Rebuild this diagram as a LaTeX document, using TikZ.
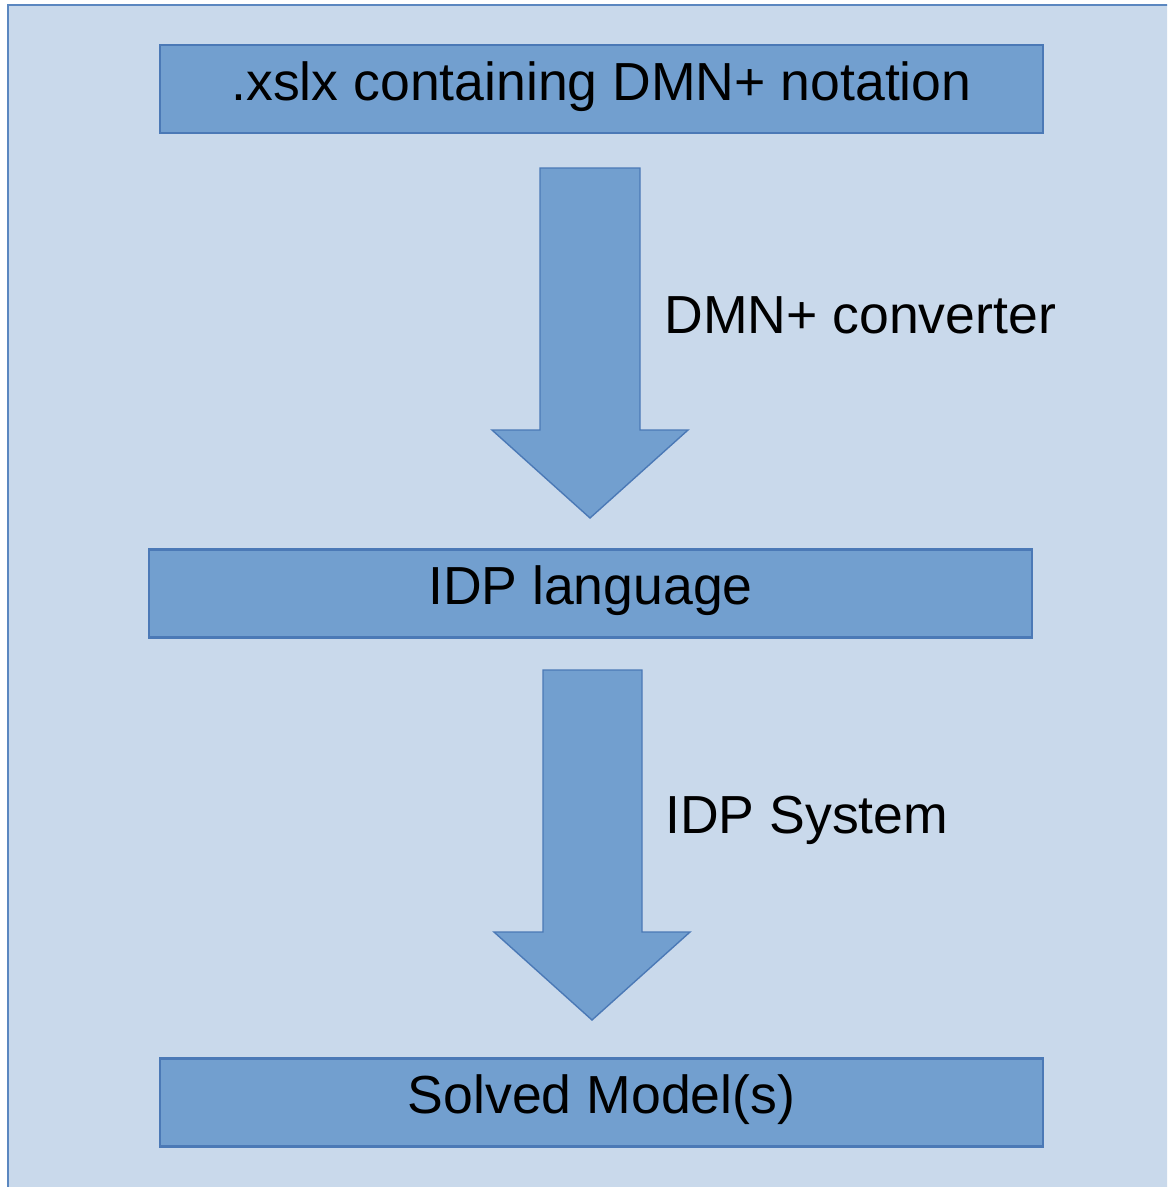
\documentclass[tikz,border=0pt]{standalone}
\usepackage{fontspec}
\setmainfont{Liberation Sans}
\definecolor{panelfill}{HTML}{C9D9EB}
\definecolor{panelline}{HTML}{5B87C0}
\definecolor{boxfill}{HTML}{729FCF}
\definecolor{boxline}{HTML}{4B79B6}
\tikzset{
  px/.style={x=0.02cm,y=-0.02cm},
  stagebox/.style={draw=boxline,line width=1.6pt,fill=boxfill,inner sep=0pt,
    minimum width=17.66cm,minimum height=1.76cm,
    text height=0.6cm,text depth=0.16cm,
    font=\fontsize{30.5}{36}\selectfont},
  flowarrow/.style={draw=boxline,line width=0.8pt,fill=boxfill,line join=miter},
  steplabel/.style={anchor=base west,inner sep=0pt,font=\fontsize{30.5}{36}\selectfont}
}
\begin{document}
\begin{tikzpicture}[px]
\useasboundingbox (0,0) rectangle (1167,1187);
\begin{scope}
  \clip (0,0) rectangle (1167,1187);
  \fill[white] (0,0) rectangle (1167,1187);
  \draw[panelline,fill=panelfill,line width=1.6pt] (8,5) rectangle (1200,1220);
\end{scope}

% stages
\node[stagebox] (xlsx) at (601.5,89) {.xslx containing DMN+ notation};
\node[stagebox] (idp) at (590.5,593.5) {IDP language};
\node[stagebox] (solved) at (601.5,1102.5) {Solved Model(s)};

% transformation arrows between stages
\coordinate (a1) at (590,168);
\draw[flowarrow] (a1) ++(-50,0) -- ++(100,0) -- ++(0,262) -- ++(48,0)
  -- (590,518) -- (492,430) -- (540,430) -- cycle;
\coordinate (a2) at (592,670);
\draw[flowarrow] (a2) ++(-49,0) -- ++(99,0) -- ++(0,262) -- ++(48,0)
  -- (592,1020) -- (494,932) -- (543,932) -- cycle;

% labels
\node[steplabel] (conv) at (664,333) {DMN+ converter};
\node[steplabel] (sys) at (665,833) {IDP System};
\end{tikzpicture}
\end{document}
